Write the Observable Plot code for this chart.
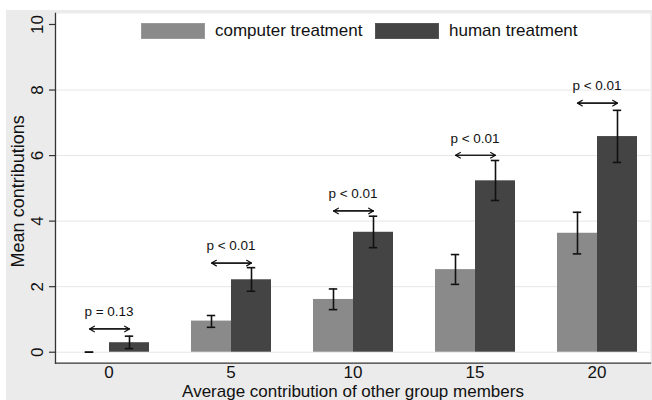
<!DOCTYPE html>
<html>
<head>
<meta charset="utf-8">
<script src="https://cdn.jsdelivr.net/npm/d3@7"></script>
<script src="https://cdn.jsdelivr.net/npm/@observablehq/plot@0.6"></script>
<style>
  body { margin: 0; background: #fff; }
  #wrap { position: relative; width: 652px; height: 400px; overflow: hidden; font-family: "Liberation Sans", Arial, Helvetica, sans-serif; }
  #panel { position: absolute; left: 6px; top: 10px; width: 646px; height: 390px; background: #ebebeb; }
  #panel svg { position: absolute; left: 0; top: 0; }
  .sw { position: absolute; top: 13px; width: 64px; height: 16px; box-sizing: border-box; }
  .lt { position: absolute; top: 11px; font-size: 17px; line-height: 20px; color: #111; white-space: nowrap; }
</style>
</head>
<body>
<div id="wrap"><div id="panel"></div></div>
<script>
// ---- data ----
const groups = ["0", "5", "10", "15", "20"];
const treatments = ["computer", "human"];
const treatmentLabels = ["computer treatment", "human treatment"];
const computerMean = [0.0, 0.95, 1.61, 2.52, 3.63];
const computerLo   = [0.0, 0.76, 1.30, 2.07, 3.00];
const computerHi   = [0.0, 1.12, 1.93, 2.98, 4.27];
const humanMean    = [0.29, 2.21, 3.66, 5.23, 6.58];
const humanLo      = [0.11, 1.86, 3.19, 4.63, 5.79];
const humanHi      = [0.49, 2.58, 4.15, 5.85, 7.38];
const pLabels      = ["p = 0.13", "p < 0.01", "p < 0.01", "p < 0.01", "p < 0.01"];
const arrowLevel   = [0.71, 2.72, 4.31, 6.01, 7.60];
const yTicks = [0, 2, 4, 6, 8, 10];
const gridTicks = [0, 2, 4, 6, 8];
const yTitle = "Mean contributions";
const xTitle = "Average contribution of other group members";
const fillColors = ["#8a8a8a", "#444444"];

// ---- tables ----
const rows = [];
groups.forEach((g, i) => {
  rows.push({group: g, treatment: "computer", mean: computerMean[i], lo: computerLo[i], hi: computerHi[i]});
  rows.push({group: g, treatment: "human", mean: humanMean[i], lo: humanLo[i], hi: humanHi[i]});
});
const pRows = groups.map((g, i) => ({group: g, label: pLabels[i], level: arrowLevel[i], from: "computer", to: "human"}));

const W = 646, H = 390;
const margins = {marginTop: 3, marginRight: 2, marginBottom: 37.3, marginLeft: 49};
const yDomain = [-0.335, 10.335];
const font = "'Liberation Sans', Arial, Helvetica, sans-serif";

const back = Plot.plot({
  width: W, height: H, ...margins,
  y: {domain: yDomain, axis: null},
  style: {background: "transparent", fontFamily: font, fontSize: "17px", color: "#111"},
  marks: [
    Plot.frame({fill: "white", stroke: "none"}),
    Plot.gridY(gridTicks, {stroke: "#e6e6e6", strokeOpacity: 1, strokeWidth: 1}),
    Plot.axisY(yTicks, {tickSize: 6, tickRotate: -90, tickPadding: 7, label: null, stroke: "#333", strokeWidth: 1.2}),
    Plot.frame({anchor: "left", stroke: "#333", strokeWidth: 1.3}),
    Plot.frame({anchor: "bottom", stroke: "#333", strokeWidth: 1.3}),
    Plot.text([yTitle], {text: d => d, frameAnchor: "left", rotate: -90, textAnchor: "middle", lineAnchor: "middle", dx: -37.5, dy: 3, fontSize: 18, fill: "#111"}),
    Plot.text([xTitle], {text: d => d, frameAnchor: "bottom", textAnchor: "middle", lineAnchor: "middle", dy: 28, fill: "#111"})
  ]
});

const front = Plot.plot({
  width: W, height: H, ...margins,
  fx: {domain: groups, paddingInner: 0.339, paddingOuter: 0.089, label: null, tickSize: 0, tickPadding: 3},
  x: {domain: treatments, padding: 0, axis: null},
  y: {domain: yDomain, axis: null},
  color: {domain: treatments, range: fillColors},
  style: {background: "transparent", fontFamily: font, fontSize: "17px", color: "#111"},
  marks: [
    Plot.barY(rows, {fx: "group", x: "treatment", y: "mean", fill: "treatment"}),
    Plot.ruleX(rows, {fx: "group", x: "treatment", y1: "lo", y2: "hi", stroke: "#111", strokeWidth: 1.6}),
    Plot.tickY(rows, {fx: "group", x: "treatment", y: "lo", stroke: "#111", strokeWidth: 1.6, insetLeft: 15.8, insetRight: 15.8}),
    Plot.tickY(rows, {fx: "group", x: "treatment", y: "hi", stroke: "#111", strokeWidth: 1.6, insetLeft: 15.8, insetRight: 15.8}),
    Plot.arrow(pRows, {fx: "group", x1: "from", x2: "to", y1: "level", y2: "level", stroke: "#111", strokeWidth: 1.2, headLength: 7, headAngle: 60}),
    Plot.arrow(pRows, {fx: "group", x1: "to", x2: "from", y1: "level", y2: "level", stroke: "#111", strokeWidth: 1.2, headLength: 7, headAngle: 60}),
    Plot.text(pRows, {fx: "group", y: "level", text: "label", dy: -17, fontSize: 13.5, fill: "#111"})
  ]
});

const panel = document.getElementById("panel");
panel.appendChild(back);
panel.appendChild(front);

// legend
const swLeft = [135, 369], txLeft = [209, 443];
treatments.forEach((t, i) => {
  const sw = document.createElement("div");
  sw.className = "sw";
  sw.style.left = swLeft[i] + "px";
  sw.style.background = fillColors[i];
  sw.style.border = "1px solid " + (i === 0 ? "#9a9a9a" : "#555");
  panel.appendChild(sw);
  const tx = document.createElement("div");
  tx.className = "lt";
  tx.style.left = txLeft[i] + "px";
  tx.textContent = treatmentLabels[i];
  panel.appendChild(tx);
});
</script>
</body>
</html>
